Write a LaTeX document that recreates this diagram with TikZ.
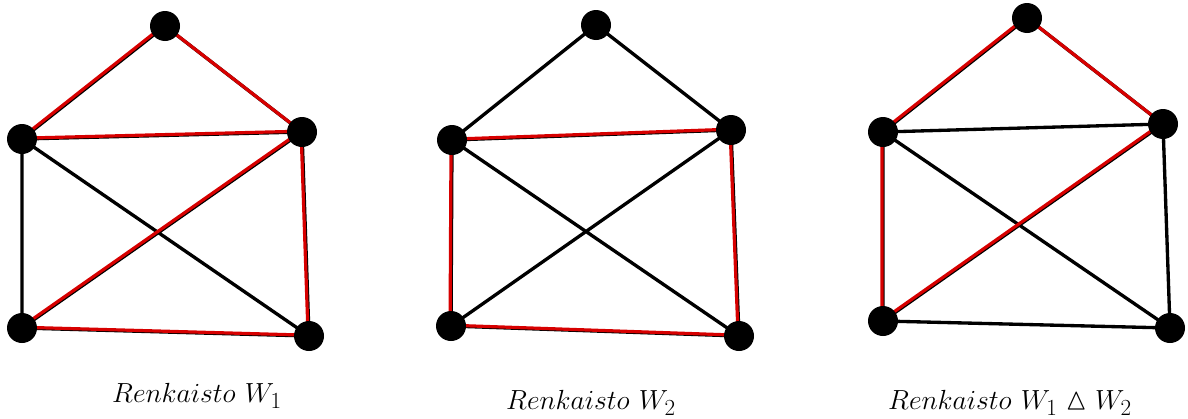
\documentclass[tikz,border=0pt]{standalone}
\usepackage{amssymb}
\begin{document}
\begin{tikzpicture}[x=0.75pt,y=-0.75pt,
  vtx/.style={circle,fill=black,inner sep=0pt,minimum size=22.5pt},
  blk/.style={draw=black,line width=2.5pt},
  redl/.style={draw={rgb,255:red,215;green,0;blue,0},line width=2.4pt,transform canvas={xshift=-0.7pt,yshift=0.6pt}},
  lbl/.style={font=\fontsize{22.8}{27}\selectfont}]
\useasboundingbox (0,0) rectangle (1188,418);
% graph 1
\coordinate (a1) at (165,26);
\coordinate (b1) at (22,139);
\coordinate (c1) at (302,132);
\coordinate (d1) at (22,328);
\coordinate (e1) at (309,336);
% graph 2
\coordinate (a2) at (596,25);
\coordinate (b2) at (452,140);
\coordinate (c2) at (731,130);
\coordinate (d2) at (451,326);
\coordinate (e2) at (739,336);
% graph 3
\coordinate (a3) at (1027,18);
\coordinate (b3) at (883,132);
\coordinate (c3) at (1163,124);
\coordinate (d3) at (883,321);
\coordinate (e3) at (1170,328);
\foreach \g in {1,2,3}{
  \draw[blk] (a\g) -- (b\g) (a\g) -- (c\g) (b\g) -- (c\g) (b\g) -- (d\g)
    (b\g) -- (e\g) (c\g) -- (d\g) (c\g) -- (e\g) (d\g) -- (e\g);
}
\draw[redl] (a1) -- (b1) (a1) -- (c1) (b1) -- (c1) (c1) -- (d1) (c1) -- (e1) (d1) -- (e1);
\draw[redl] (b2) -- (c2) (b2) -- (d2) (c2) -- (e2) (d2) -- (e2);
\draw[redl] (a3) -- (b3) (a3) -- (c3) (b3) -- (d3) (c3) -- (d3);
\foreach \g in {1,2,3}{
  \foreach \v in {a,b,c,d,e}{
    \node[vtx] (n\v\g) at (\v\g) {};
  }
}
\node[lbl] (l1) at (197,396) {$Renkaisto\ W_1$};
\node[lbl] (l2) at (591,403) {$Renkaisto\ W_2$};
\node[lbl] (l3) at (1010,403) {$Renkaisto\ W_1 \vartriangle W_2$};
\end{tikzpicture}
\end{document}
